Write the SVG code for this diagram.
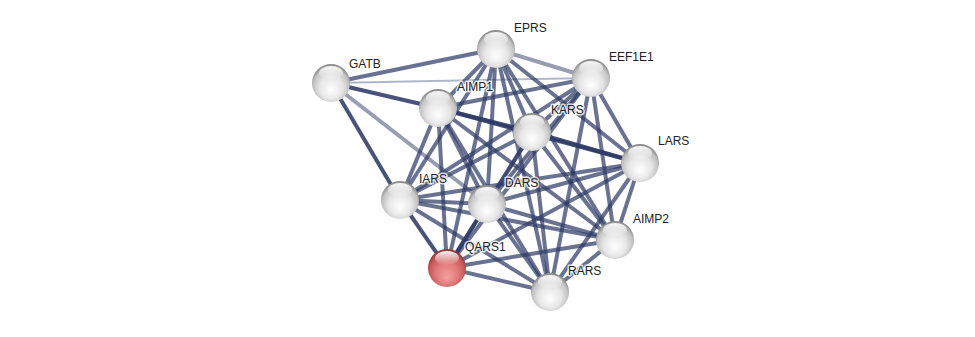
<svg xmlns="http://www.w3.org/2000/svg" width="975" height="337" viewBox="0 0 975 337">
<style>
.e{stroke:#2f3b66;stroke-width:4;stroke-opacity:0.72;stroke-linecap:butt}
.d{stroke-opacity:0.88}
.l{stroke-opacity:0.5}
.t{stroke:#8f98b8;stroke-width:2;stroke-opacity:0.7}
.lb{font-family:"Liberation Sans",Arial,sans-serif;font-size:12px;fill:#222;stroke:#fff;stroke-width:3;stroke-opacity:0.8;paint-order:stroke;stroke-linejoin:round}
</style>
<defs>
<radialGradient id="gw" cx="0.5" cy="0.58" r="0.55" fx="0.5" fy="0.7">
<stop offset="0" stop-color="#ffffff"/>
<stop offset="0.55" stop-color="#e6e6e6"/>
<stop offset="0.85" stop-color="#c2c2c2"/>
<stop offset="1" stop-color="#8e8e8e"/>
</radialGradient>
<radialGradient id="gr" cx="0.5" cy="0.58" r="0.55" fx="0.5" fy="0.75">
<stop offset="0" stop-color="#f6a0a0"/>
<stop offset="0.55" stop-color="#e07878"/>
<stop offset="0.85" stop-color="#c45858"/>
<stop offset="1" stop-color="#8e3a3a"/>
</radialGradient>
<linearGradient id="hl" x1="0" y1="0" x2="0" y2="1">
<stop offset="0" stop-color="#fff" stop-opacity="0.95"/>
<stop offset="1" stop-color="#fff" stop-opacity="0"/>
</linearGradient>
<g id="hi"><ellipse cx="0" cy="-10" rx="12" ry="7" fill="url(#hl)"/></g>
</defs>
<rect width="975" height="337" fill="#fff"/>
<g id="connectors">
<line class="e" x1="331" y1="83" x2="496" y2="49"/>
<line class="t" x1="331" y1="83" x2="591" y2="78"/>
<line class="e d" x1="331" y1="83" x2="438" y2="108"/>
<line class="e d" x1="331" y1="83" x2="400" y2="200"/>
<line class="e l" x1="331" y1="83" x2="487" y2="204"/>
<line class="e l" x1="496" y1="49" x2="591" y2="78"/>
<line class="e" x1="496" y1="49" x2="438" y2="108"/>
<line class="e" x1="496" y1="49" x2="532" y2="132"/>
<line class="e" x1="496" y1="49" x2="640" y2="163"/>
<line class="e" x1="496" y1="49" x2="400" y2="200"/>
<line class="e" x1="496" y1="49" x2="487" y2="204"/>
<line class="e" x1="496" y1="49" x2="615" y2="240"/>
<line class="e" x1="496" y1="49" x2="447" y2="268"/>
<line class="e" x1="496" y1="49" x2="550" y2="292"/>
<line class="e" x1="591" y1="78" x2="438" y2="108"/>
<line class="e" x1="591" y1="78" x2="532" y2="132"/>
<line class="e" x1="591" y1="78" x2="640" y2="163"/>
<line class="e" x1="591" y1="78" x2="400" y2="200"/>
<line class="e" x1="591" y1="78" x2="487" y2="204"/>
<line class="e" x1="591" y1="78" x2="615" y2="240"/>
<line class="e" x1="591" y1="78" x2="447" y2="268"/>
<line class="e" x1="591" y1="78" x2="550" y2="292"/>
<line class="e d" x1="438" y1="108" x2="532" y2="132"/>
<line class="e d" x1="438" y1="108" x2="640" y2="163"/>
<line class="e" x1="438" y1="108" x2="400" y2="200"/>
<line class="e" x1="438" y1="108" x2="487" y2="204"/>
<line class="e" x1="438" y1="108" x2="615" y2="240"/>
<line class="e" x1="438" y1="108" x2="447" y2="268"/>
<line class="e" x1="438" y1="108" x2="550" y2="292"/>
<line class="e d" x1="532" y1="132" x2="640" y2="163"/>
<line class="e" x1="532" y1="132" x2="400" y2="200"/>
<line class="e" x1="532" y1="132" x2="487" y2="204"/>
<line class="e" x1="532" y1="132" x2="615" y2="240"/>
<line class="e" x1="532" y1="132" x2="447" y2="268"/>
<line class="e" x1="532" y1="132" x2="550" y2="292"/>
<line class="e" x1="640" y1="163" x2="400" y2="200"/>
<line class="e" x1="640" y1="163" x2="487" y2="204"/>
<line class="e" x1="640" y1="163" x2="615" y2="240"/>
<line class="e" x1="640" y1="163" x2="447" y2="268"/>
<line class="e" x1="640" y1="163" x2="550" y2="292"/>
<line class="e" x1="400" y1="200" x2="487" y2="204"/>
<line class="e" x1="400" y1="200" x2="615" y2="240"/>
<line class="e d" x1="400" y1="200" x2="447" y2="268"/>
<line class="e" x1="400" y1="200" x2="550" y2="292"/>
<line class="e" x1="487" y1="204" x2="615" y2="240"/>
<line class="e d" x1="487" y1="204" x2="447" y2="268"/>
<line class="e" x1="487" y1="204" x2="550" y2="292"/>
<line class="e" x1="615" y1="240" x2="447" y2="268"/>
<line class="e" x1="615" y1="240" x2="550" y2="292"/>
<line class="e" x1="447" y1="268" x2="550" y2="292"/>
</g>
<g id="EPRS"><circle cx="496" cy="49" r="19" fill="url(#gw)"/><use href="#hi" x="496" y="49"/><text class="lb" x="514" y="32">EPRS</text></g>
<g id="GATB"><circle cx="331" cy="83" r="19" fill="url(#gw)"/><use href="#hi" x="331" y="83"/><text class="lb" x="349" y="68">GATB</text></g>
<g id="EEF1E1"><circle cx="591" cy="78" r="19" fill="url(#gw)"/><use href="#hi" x="591" y="78"/><text class="lb" x="609" y="61">EEF1E1</text></g>
<g id="AIMP1"><circle cx="438" cy="108" r="19" fill="url(#gw)"/><use href="#hi" x="438" y="108"/><text class="lb" x="457" y="91">AIMP1</text></g>
<g id="KARS"><circle cx="532" cy="132" r="19" fill="url(#gw)"/><use href="#hi" x="532" y="132"/><text class="lb" x="551" y="114">KARS</text></g>
<g id="LARS"><circle cx="640" cy="163" r="19" fill="url(#gw)"/><use href="#hi" x="640" y="163"/><text class="lb" x="658" y="145">LARS</text></g>
<g id="IARS"><circle cx="400" cy="200" r="19" fill="url(#gw)"/><use href="#hi" x="400" y="200"/><text class="lb" x="419" y="183">IARS</text></g>
<g id="DARS"><circle cx="487" cy="204" r="19" fill="url(#gw)"/><use href="#hi" x="487" y="204"/><text class="lb" x="505" y="187">DARS</text></g>
<g id="AIMP2"><circle cx="615" cy="240" r="19" fill="url(#gw)"/><use href="#hi" x="615" y="240"/><text class="lb" x="633" y="223">AIMP2</text></g>
<g id="QARS1"><circle cx="447" cy="268" r="19" fill="url(#gr)"/><use href="#hi" x="447" y="268"/><text class="lb" x="465" y="251">QARS1</text></g>
<g id="RARS"><circle cx="550" cy="292" r="19" fill="url(#gw)"/><use href="#hi" x="550" y="292"/><text class="lb" x="568" y="275">RARS</text></g>
</svg>
